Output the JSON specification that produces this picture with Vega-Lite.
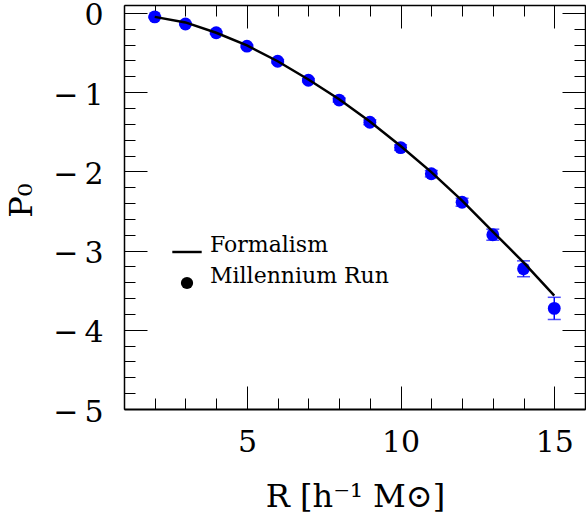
{
  "$schema": "https://vega.github.io/schema/vega-lite/v6.json",
  "width": 461,
  "height": 404,
  "autosize": "none",
  "padding": {"left": 124, "top": 5, "right": 1, "bottom": 108},
  "background": "white",
  "config": {
    "view": {"stroke": null},
    "font": "DejaVu Serif",
    "axis": {
      "grid": false,
      "domainColor": "black",
      "domainWidth": 1.5,
      "tickColor": "black",
      "tickWidth": 1,
      "labelColor": "black",
      "titleColor": "black",
      "labelFont": "DejaVu Serif",
      "titleFont": "DejaVu Serif",
      "titleFontWeight": "normal",
      "labelOverlap": false,
      "labelFlush": false
    }
  },
  "datasets": {
    "sim": [
      {"x": 2, "y": -0.05, "lo": -0.06, "hi": -0.04},
      {"x": 3, "y": -0.14, "lo": -0.15, "hi": -0.13},
      {"x": 4, "y": -0.25, "lo": -0.265, "hi": -0.235},
      {"x": 5, "y": -0.42, "lo": -0.435, "hi": -0.405},
      {"x": 6, "y": -0.61, "lo": -0.63, "hi": -0.59},
      {"x": 7, "y": -0.85, "lo": -0.87, "hi": -0.83},
      {"x": 8, "y": -1.10, "lo": -1.125, "hi": -1.075},
      {"x": 9, "y": -1.38, "lo": -1.41, "hi": -1.35},
      {"x": 10, "y": -1.70, "lo": -1.735, "hi": -1.665},
      {"x": 11, "y": -2.03, "lo": -2.07, "hi": -1.99},
      {"x": 12, "y": -2.39, "lo": -2.44, "hi": -2.34},
      {"x": 13, "y": -2.80, "lo": -2.87, "hi": -2.73},
      {"x": 14, "y": -3.23, "lo": -3.33, "hi": -3.13},
      {"x": 15, "y": -3.73, "lo": -3.87, "hi": -3.59}
    ],
    "theory": [
      {"x": 2, "y": -0.05},
      {"x": 3, "y": -0.12},
      {"x": 4, "y": -0.25},
      {"x": 5, "y": -0.41},
      {"x": 6, "y": -0.61},
      {"x": 7, "y": -0.84},
      {"x": 8, "y": -1.09},
      {"x": 9, "y": -1.37},
      {"x": 10, "y": -1.68},
      {"x": 11, "y": -2.01},
      {"x": 12, "y": -2.37},
      {"x": 13, "y": -2.76},
      {"x": 14, "y": -3.15},
      {"x": 15, "y": -3.57}
    ]
  },
  "layer": [
    {
      "data": {"name": "sim"},
      "mark": {"type": "errorbar", "ticks": true, "color": "#0000ff", "size": 13, "thickness": 1.5},
      "encoding": {
        "x": {"field": "x", "type": "quantitative", "scale": {"domain": [1, 16], "nice": false, "zero": false}, "axis": null},
        "y": {"field": "lo", "type": "quantitative", "scale": {"domain": [-5, 0.1], "nice": false, "zero": false}, "axis": null},
        "y2": {"field": "hi"}
      }
    },
    {
      "data": {"name": "sim"},
      "mark": {"type": "point", "filled": true, "shape": "circle", "size": 165, "color": "#0000ff", "opacity": 1},
      "encoding": {
        "x": {
          "field": "x", "type": "quantitative",
          "scale": {"domain": [1, 16], "nice": false, "zero": false},
          "axis": {
            "orient": "bottom",
            "values": [1,2,3,4,5,6,7,8,9,10,11,12,13,14,15,16],
            "tickSize": {"condition": {"test": "datum.value % 5 === 0", "value": -23}, "value": -11},
            "labelExpr": "datum.value % 5 === 0 ? format(datum.value, 'd') : ''",
            "labelFontSize": 30,
            "labelPadding": 41,
            "domainWidth": 2,
            "title": "R [h⁻¹ M⊙]",
            "titleFontSize": 32,
            "titleBaseline": "alphabetic",
            "titleY": 97,
            "titleX": 231
          }
        },
        "y": {
          "field": "y", "type": "quantitative",
          "scale": {"domain": [-5, 0.1], "nice": false, "zero": false},
          "axis": {
            "orient": "left",
            "values": [-5,-4.8,-4.6,-4.4,-4.2,-4,-3.8,-3.6,-3.4,-3.2,-3,-2.8,-2.6,-2.4,-2.2,-2,-1.8,-1.6,-1.4,-1.2,-1,-0.8,-0.6,-0.4,-0.2,0],
            "tickSize": {"condition": {"test": "abs(datum.value - round(datum.value)) < 0.001", "value": -23}, "value": -11},
            "labelExpr": "abs(datum.value - round(datum.value)) < 0.001 ? (round(datum.value) === 0 ? '0' : '−\u2009' + abs(round(datum.value))) : ''",
            "labelFontSize": 30,
            "labelPadding": 44,
            "labelOffset": 3,
            "title": "P₀",
            "titleFontSize": 32,
            "titleX": -86,
            "titleY": 195,
            "titleAngle": -90
          }
        }
      }
    },
    {
      "data": {"name": "theory"},
      "mark": {"type": "line", "color": "black", "strokeWidth": 2.5},
      "encoding": {
        "x": {
          "field": "x", "type": "quantitative",
          "scale": {"domain": [1, 16], "nice": false, "zero": false},
          "axis": {
            "orient": "top",
            "values": [1,2,3,4,5,6,7,8,9,10,11,12,13,14,15,16],
            "tickSize": {"condition": {"test": "datum.value % 5 === 0", "value": -23}, "value": -11},
            "labels": false,
            "title": null
          }
        },
        "y": {
          "field": "y", "type": "quantitative",
          "scale": {"domain": [-5, 0.1], "nice": false, "zero": false},
          "axis": {
            "orient": "right",
            "values": [-5,-4.8,-4.6,-4.4,-4.2,-4,-3.8,-3.6,-3.4,-3.2,-3,-2.8,-2.6,-2.4,-2.2,-2,-1.8,-1.6,-1.4,-1.2,-1,-0.8,-0.6,-0.4,-0.2,0],
            "tickSize": {"condition": {"test": "abs(datum.value - round(datum.value)) < 0.001", "value": -23}, "value": -11},
            "labels": false,
            "title": null
          }
        }
      }
    },
    {
      "data": {"name": "sim"},
      "mark": {"type": "point", "filled": true, "size": 0, "color": "black", "opacity": 1},
      "encoding": {
        "x": {"field": "x", "type": "quantitative", "axis": null},
        "y": {"field": "y", "type": "quantitative", "axis": null},
        "shape": {
          "datum": "Millennium Run",
          "type": "nominal",
          "scale": {"domain": ["Formalism", "Millennium Run"], "range": ["M-2.4,-0.2L2.4,-0.2L2.4,0.2L-2.4,0.2Z", "circle"]},
          "legend": {
            "title": null,
            "orient": "none",
            "legendX": 52,
            "legendY": 236,
            "padding": 0,
            "labelFont": "DejaVu Serif",
            "labelFontSize": 22,
            "labelColor": "black",
            "labelLimit": 0,
            "labelOffset": 12,
            "labelBaseline": "alphabetic",
            "rowPadding": 9,
            "symbolSize": 150,
            "symbolStrokeWidth": 0
          }
        }
      }
    }
  ],
  "resolve": {"axis": {"x": "independent", "y": "independent"}}
}
